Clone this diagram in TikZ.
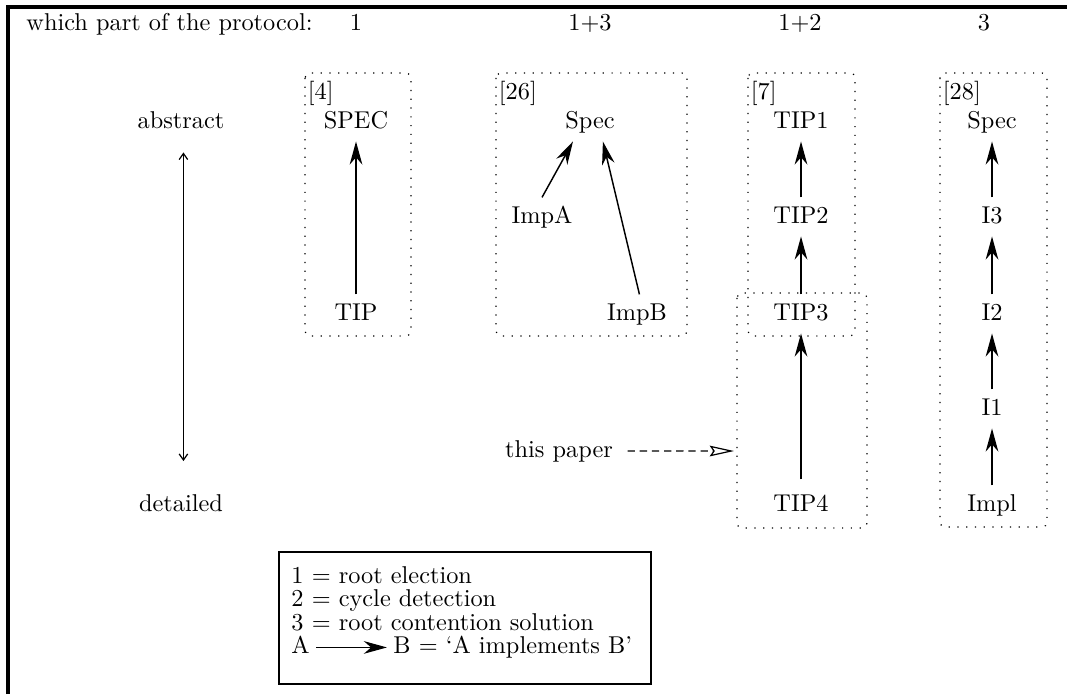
\documentclass[tikz,border=0pt]{standalone}
\usepackage{tikz}
\usetikzlibrary{arrows.meta}
\tikzset{
  lvl/.style={anchor=base, text height=7pt, text depth=2pt},
  impl/.style={-{Stealth[length=9.5pt,width=5.2pt,inset=3pt]}, line width=0.6pt},
  refbox/.style={line width=0.5pt, dash pattern=on 0.5pt off 3.1pt, rounded corners=2pt},
  reflabel/.style={anchor=north west, inner xsep=1pt},
  legline/.style={anchor=base west, inner sep=0pt},
}

\begin{document}
\begin{tikzpicture}[x=0.411pt, y=-0.411pt]
    \useasboundingbox (0,0) rectangle (1067,694);
    \draw[line width=1.3pt] (8,694) -- (8,7) -- (1067,7);

    \node[legline] (part) at (26,30) {which part of the protocol:};
    \node[anchor=base] (p1) at (356,30) {1};
    \node[anchor=base] (p13) at (590,30) {1+3};
    \node[anchor=base] (p12) at (800,30) {1+2};
    \node[anchor=base] (p3) at (984,30) {3};

    \node[lvl] (abstract) at (181,128) {abstract};
    \node[lvl] (detailed) at (181,511) {detailed};
    \draw[{Straight Barb[length=2.5pt,width=3.5pt]}-{Straight Barb[length=2.5pt,width=3.5pt]}, line width=0.5pt,
          shorten <=4.5pt, shorten >=10pt] ([xshift=1pt]abstract.south) -- ([xshift=1pt]detailed.north);

    \draw[refbox] (305,73) rectangle (411,336);
    \node[reflabel] (ref4) at (305,73) {[4]};
    \node[lvl] (spec4) at (356,128) {SPEC};
    \node[lvl] (tip) at (356,320) {TIP};
    \draw[impl] (tip.north) -- (spec4.south);

    \draw[refbox] (496,73) rectangle (687,336);
    \node[reflabel] (ref26) at (496,73) {[26]};
    \node[lvl] (spec26) at (590,128) {Spec};
    \node[lvl] (impa) at (542,223) {ImpA};
    \node[lvl] (impb) at (637,320) {ImpB};
    \draw[impl] (impa.north) -- ([xshift=-7pt]spec26.south);
    \draw[impl] ([xshift=1pt]impb.north) -- ([xshift=5.3pt]spec26.south);

    \draw[refbox] (748,73) rectangle (855,336);
    \draw[refbox] (737,293) rectangle (867,528);
    \node[reflabel] (ref7) at (748,73) {[7]};
    \node[lvl] (tip1) at (801,128) {TIP1};
    \node[lvl] (tip2) at (801,223) {TIP2};
    \node[lvl] (tip3) at (801,320) {TIP3};
    \node[lvl] (tip4) at (801,511) {TIP4};
    \draw[impl] (tip2.north) -- (tip1.south);
    \draw[impl] (tip3.north) -- (tip2.south);
    \draw[impl, shorten <=2.5pt] (tip4.north) -- (tip3.south);

    \draw[refbox] (940,73) rectangle (1047,527);
    \node[reflabel] (ref28) at (940,73) {[28]};
    \node[lvl] (spec28) at (992,128) {Spec};
    \node[lvl] (i3) at (992,223) {I3};
    \node[lvl] (i2) at (992,320) {I2};
    \node[lvl] (i1) at (992,415) {I1};
    \node[lvl] (impl) at (992,511) {Impl};
    \draw[impl] (i3.north) -- (spec28.south);
    \draw[impl] (i2.north) -- (i3.south);
    \draw[impl] (i1.north) -- (i2.south);
    \draw[impl] (impl.north) -- (i1.south);

    \node[lvl] (paper) at (559,457) {this paper};
    \coordinate (ptr) at (734,451);
    \draw[-{Stealth[open,length=10pt,width=4.4pt,inset=1.5pt]}, line width=0.5pt, dash pattern=on 3pt off 2pt,
          shorten <=2.5pt] (paper.east) -- (ptr);

    \draw[line width=0.5pt] (279,552) rectangle (651,684);
    \node[legline] (leg1) at (291,583) {1 $=$ root election};
    \node[legline] (leg2) at (291,606.5) {2 $=$ cycle detection};
    \node[legline] (leg3) at (291,630) {3 $=$ root contention solution};
    \node[legline] (legA) at (291,653.5) {A};
    \node[legline] (legB) at (393,653.5) {B $=$ `A implements B'};
    \draw[impl, line width=0.5pt] ([xshift=2.5pt,yshift=2.5pt]legA.base east) -- ([xshift=-2.5pt,yshift=2.5pt]legB.base west);
\end{tikzpicture}
\end{document}
